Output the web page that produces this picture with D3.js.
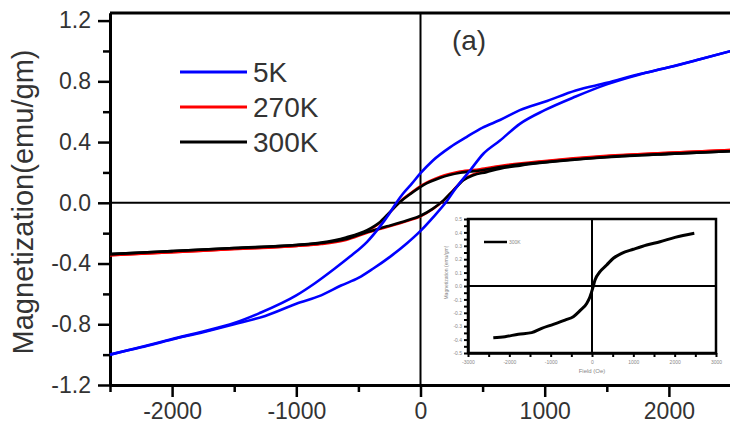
<!DOCTYPE html>
<html>
<head>
<meta charset="utf-8">
<script src="https://cdn.jsdelivr.net/npm/d3@7"></script>
<style>
  html, body { margin: 0; padding: 0; background: #fff; }
  svg { display: block; }
</style>
</head>
<body>
<svg id="chart" width="730" height="423"></svg>
<script>
// ---- axis ticks ----
const fieldTicksMajor = [-2000, -1000, 0, 1000, 2000];
const fieldTicksMinor = [-2500, -1500, -500, 500, 1500, 2500];
const magTicksMajor = [-1.2, -0.8, -0.4, 0.0, 0.4, 0.8, 1.2];
const magTicksMinor = [-1.0, -0.6, -0.2, 0.2, 0.6, 1.0];

// ---- legend ----
const seriesNames = ["5K", "270K", "300K"];
const seriesColors = ["#0000ff", "#ff0000", "#000000"];

// ---- 5 K loop (field in Oe, magnetization in emu/gm) ----
const h5kDown = [-2500, -2250, -2000, -1750, -1500, -1300, -1000, -850, -690, -570, -430, -330, -250, -190, -140, -70, 0, 100, 240, 370, 500, 640, 800, 1000, 1250, 1500, 1750, 2000, 2250, 2500];
const m5kDown = [-1.0, -0.95, -0.897, -0.848, -0.792, -0.728, -0.61, -0.53, -0.433, -0.356, -0.257, -0.16, -0.07, 0.006, 0.061, 0.126, 0.195, 0.279, 0.367, 0.433, 0.495, 0.545, 0.61, 0.665, 0.74, 0.79, 0.845, 0.892, 0.945, 1.0];
const h5kUp = [-2500, -2250, -2000, -1750, -1500, -1250, -1000, -800, -640, -500, -380, -246, -111, 0, 103, 211, 291, 399, 506, 640, 800, 1000, 1250, 1500, 1750, 2000, 2250, 2500];
const m5kUp = [-1.0, -0.952, -0.9, -0.852, -0.8, -0.745, -0.665, -0.61, -0.545, -0.495, -0.433, -0.356, -0.268, -0.185, -0.094, 0.01, 0.104, 0.213, 0.323, 0.41, 0.52, 0.61, 0.7, 0.78, 0.842, 0.892, 0.945, 1.0];

// ---- 270 K loop ----
const h270Down = [-2500, -2000, -1500, -1000, -800, -600, -430, -325, -245, -165, -85, 20, 160, 320, 480, 640, 1000, 1500, 2000, 2500];
const m270Down = [-0.346, -0.326, -0.305, -0.285, -0.269, -0.235, -0.186, -0.13, -0.062, 0.008, 0.06, 0.12, 0.172, 0.206, 0.222, 0.243, 0.276, 0.31, 0.33, 0.348];
const h270Up = [-2500, -2000, -1500, -1000, -800, -600, -430, -270, -110, 0, 100, 185, 265, 345, 425, 530, 640, 800, 1000, 1500, 2000, 2500];
const m270Up = [-0.346, -0.326, -0.305, -0.285, -0.272, -0.245, -0.198, -0.16, -0.12, -0.089, -0.041, 0.014, 0.084, 0.152, 0.187, 0.208, 0.232, 0.252, 0.272, 0.307, 0.33, 0.348];

// ---- 300 K loop ----
const h300Down = [-2500, -2000, -1500, -1000, -800, -600, -430, -325, -245, -165, -85, 20, 160, 320, 480, 640, 1000, 1500, 2000, 2500];
const m300Down = [-0.338, -0.318, -0.298, -0.278, -0.262, -0.228, -0.18, -0.126, -0.06, 0.005, 0.056, 0.115, 0.165, 0.198, 0.213, 0.235, 0.268, 0.302, 0.322, 0.34];
const h300Up = [-2500, -2000, -1500, -1000, -800, -600, -430, -270, -110, 0, 100, 185, 265, 345, 425, 530, 640, 800, 1000, 1500, 2000, 2500];
const m300Up = [-0.338, -0.318, -0.298, -0.278, -0.265, -0.238, -0.192, -0.155, -0.116, -0.085, -0.038, 0.016, 0.082, 0.148, 0.181, 0.202, 0.225, 0.245, 0.265, 0.3, 0.322, 0.34];

// ---- inset curve ----
const insetField = [-2388, -2105, -1783, -1460, -1218, -936, -653, -452, -290, -128, -48, 16, 73, 194, 355, 516, 718, 999, 1323, 1645, 2008, 2475];
const insetMag = [-0.386, -0.378, -0.36, -0.348, -0.316, -0.286, -0.254, -0.229, -0.184, -0.13, -0.08, -0.018, 0.045, 0.107, 0.157, 0.207, 0.244, 0.274, 0.306, 0.33, 0.363, 0.393];
const insetFieldTicks = [-3000, -2500, -2000, -1500, -1000, -500, 0, 500, 1000, 1500, 2000, 2500, 3000];
const insetFieldLabels = [-3000, -2000, -1000, 0, 1000, 2000, 3000];
const insetMagTicks = d3.range(-10, 11).map(i => i * 0.05);
const insetMagLabels = [-0.5, -0.4, -0.3, -0.2, -0.1, 0.0, 0.1, 0.2, 0.3, 0.4, 0.5];
const insetLegend = "300K";

const FONT = "'Liberation Sans', Arial, sans-serif";
const TEXT = "#333";

const svg = d3.select("#chart");
svg.append("rect").attr("width", 730).attr("height", 423).attr("fill", "#fff");

const x = d3.scaleLinear().domain([-2500, 2500]).range([110, 731]);
const y = d3.scaleLinear().domain([-1.2, 1.25]).range([385, 13]);

const fmtMag = d => d3.format(".1f")(d).replace("\u2212", "-");
const fmtField = d => String(d);

// zero reference lines
svg.append("line").attr("x1", x(-2500)).attr("x2", x(2500)).attr("y1", y(0)).attr("y2", y(0))
  .attr("stroke", "#000").attr("stroke-width", 2);
svg.append("line").attr("x1", x(0)).attr("x2", x(0)).attr("y1", y(1.25)).attr("y2", y(-1.2))
  .attr("stroke", "#000").attr("stroke-width", 2);

// top border
svg.append("line").attr("x1", x(-2500)).attr("x2", x(2500)).attr("y1", y(1.25)).attr("y2", y(1.25))
  .attr("stroke", "#000").attr("stroke-width", 3);

function styleAxis(g) {
  g.selectAll("path.domain").attr("stroke", "#000").attr("stroke-width", 3);
  g.selectAll(".tick line").attr("stroke", "#000").attr("stroke-width", 2.5);
  g.selectAll(".tick text").attr("fill", TEXT).attr("font-family", FONT).attr("font-size", 23);
}

// x axis
const gxMinor = svg.append("g").attr("transform", `translate(0,${y(-1.2)})`)
  .call(d3.axisBottom(x).tickValues(fieldTicksMinor).tickSize(7).tickSizeOuter(0).tickFormat(""));
styleAxis(gxMinor);
const gx = svg.append("g").attr("transform", `translate(0,${y(-1.2)})`)
  .call(d3.axisBottom(x).tickValues(fieldTicksMajor).tickSize(12).tickSizeOuter(0).tickPadding(6).tickFormat(fmtField));
styleAxis(gx);

// y axis
const gyMinor = svg.append("g").attr("transform", `translate(${x(-2500)},0)`)
  .call(d3.axisLeft(y).tickValues(magTicksMinor).tickSize(7).tickSizeOuter(0).tickFormat(""));
styleAxis(gyMinor);
const gy = svg.append("g").attr("transform", `translate(${x(-2500)},0)`)
  .call(d3.axisLeft(y).tickValues(magTicksMajor).tickSize(12).tickSizeOuter(0).tickPadding(7).tickFormat(fmtMag));
styleAxis(gy);

// y axis title
svg.append("text")
  .attr("transform", "translate(33,202) rotate(-90)")
  .attr("text-anchor", "middle")
  .attr("font-family", FONT).attr("font-size", 29).attr("fill", TEXT)
  .attr("textLength", 305).attr("lengthAdjust", "spacingAndGlyphs")
  .text("Magnetization(emu/gm)");

// curves
const line = d3.line().x(d => x(d[0])).y(d => y(d[1])).curve(d3.curveMonotoneX);
const zip = (a, b) => a.map((v, i) => [v, b[i]]);

const loops = [
  { color: seriesColors[1], width: 2.4, branches: [zip(h270Down, m270Down), zip(h270Up, m270Up)] },
  { color: seriesColors[2], width: 2.6, branches: [zip(h300Down, m300Down), zip(h300Up, m300Up)] },
  { color: seriesColors[0], width: 2.6, branches: [zip(h5kDown, m5kDown), zip(h5kUp, m5kUp)] }
];
loops.forEach(l => {
  l.branches.forEach(b => {
    svg.append("path").attr("d", line(b)).attr("fill", "none")
      .attr("stroke", l.color).attr("stroke-width", l.width).attr("stroke-linejoin", "round");
  });
});

// legend
const legendY = [72, 107, 142];
seriesNames.forEach((name, i) => {
  svg.append("line").attr("x1", 180).attr("x2", 247).attr("y1", legendY[i]).attr("y2", legendY[i])
    .attr("stroke", seriesColors[i]).attr("stroke-width", 3);
  svg.append("text").attr("x", 253).attr("y", legendY[i] + 9.5)
    .attr("font-family", FONT).attr("font-size", 28).attr("fill", TEXT).text(name);
});

// panel label
svg.append("text").attr("x", 469).attr("y", 50).attr("text-anchor", "middle")
  .attr("font-family", FONT).attr("font-size", 28).attr("fill", TEXT).text("(a)");

// ---- inset ----
const ix = d3.scaleLinear().domain([-3000, 3000]).range([468, 716]);
const iy = d3.scaleLinear().domain([-0.5, 0.5]).range([353, 219]);
const insetLine = d3.line().x(d => ix(d[0])).y(d => iy(d[1])).curve(d3.curveMonotoneX);
const inset = svg.append("g");
inset.append("rect").attr("x", ix(-3000)).attr("y", iy(0.5))
  .attr("width", ix(3000) - ix(-3000)).attr("height", iy(-0.5) - iy(0.5))
  .attr("fill", "#fff").attr("stroke", "#000").attr("stroke-width", 2.5);
inset.append("line").attr("x1", ix(-3000)).attr("x2", ix(3000)).attr("y1", iy(0)).attr("y2", iy(0))
  .attr("stroke", "#000").attr("stroke-width", 2);
inset.append("line").attr("x1", ix(0)).attr("x2", ix(0)).attr("y1", iy(0.5)).attr("y2", iy(-0.5))
  .attr("stroke", "#000").attr("stroke-width", 2);

const igx = inset.append("g").attr("transform", `translate(0,${iy(-0.5)})`)
  .call(d3.axisBottom(ix).tickValues(insetFieldTicks).tickSize(4).tickSizeOuter(0)
    .tickFormat(d => insetFieldLabels.includes(d) ? String(d) : "").tickPadding(3));
const igy = inset.append("g").attr("transform", `translate(${ix(-3000)},0)`)
  .call(d3.axisLeft(iy).tickValues(insetMagTicks).tickSize(4).tickSizeOuter(0)
    .tickFormat(d => insetMagLabels.some(v => Math.abs(v - d) < 1e-9) ? d3.format(".1f")(d).replace("\u2212", "-") : "").tickPadding(2));
[igx, igy].forEach(g => {
  g.selectAll("path.domain").attr("stroke", "#000").attr("stroke-width", 2.5);
  g.selectAll(".tick line").attr("stroke", "#000").attr("stroke-width", 2);
  g.selectAll(".tick text").attr("fill", "#888").attr("font-family", FONT).attr("font-size", 5);
});
inset.append("text").attr("x", ix(0)).attr("y", 373).attr("text-anchor", "middle")
  .attr("font-family", FONT).attr("font-size", 6).attr("fill", "#888").text("Field (Oe)");
inset.append("text").attr("transform", `translate(448,${iy(0.1)}) rotate(-90)`).attr("text-anchor", "middle")
  .attr("font-family", FONT).attr("font-size", 5).attr("fill", "#888").text("Magnetization (emu/gm)");

inset.append("path").attr("d", insetLine(zip(insetField, insetMag))).attr("fill", "none")
  .attr("stroke", "#000").attr("stroke-width", 3);
inset.append("line").attr("x1", 484).attr("x2", 507).attr("y1", 242).attr("y2", 242)
  .attr("stroke", "#000").attr("stroke-width", 2.5);
inset.append("text").attr("x", 509).attr("y", 244).attr("font-family", FONT)
  .attr("font-size", 5).attr("fill", "#888").text(insetLegend);
</script>
</body>
</html>
